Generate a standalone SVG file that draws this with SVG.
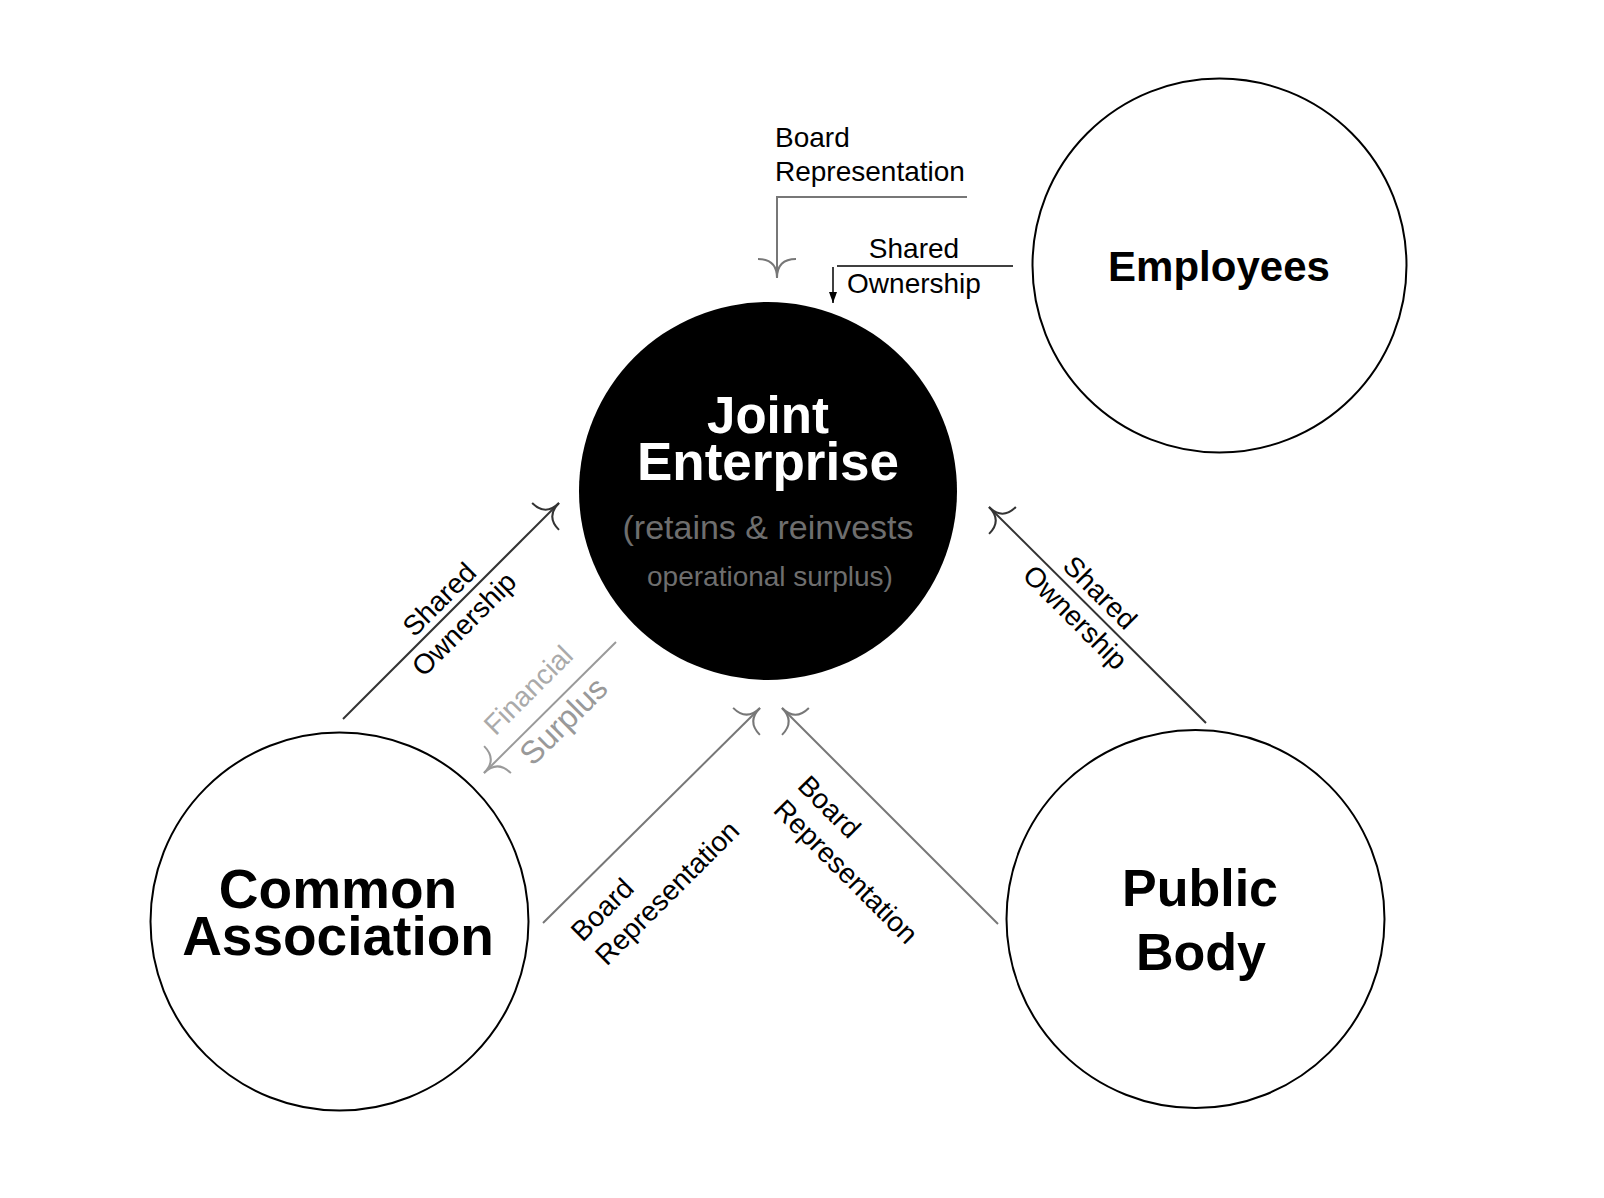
<svg xmlns="http://www.w3.org/2000/svg" width="1604" height="1198" viewBox="0 0 1604 1198">
<style>
text { font-family: "Liberation Sans", Arial, Helvetica, sans-serif; }
.lbl { font-size: 28px; fill: #000; }
.node { fill: #fff; stroke: #000; stroke-width: 2; }
.title { font-weight: bold; fill: #000; text-anchor: middle; }
.dark { stroke: #333; stroke-width: 2; fill: none; }
.gray { stroke: #777; stroke-width: 2; fill: none; }
.light { stroke: #9a9a9a; stroke-width: 2; fill: none; }
</style>
<defs>
<marker id="mk-dark" viewBox="-24 -24 30 48" refX="0" refY="0" markerWidth="30" markerHeight="48" markerUnits="userSpaceOnUse" orient="auto" overflow="visible">
<path d="M-19,-19 Q-19,0 0,0 Q-19,0 -19,19" fill="none" stroke="#333" stroke-width="2"/>
</marker>
<marker id="mk-gray" viewBox="-24 -24 30 48" refX="0" refY="0" markerWidth="30" markerHeight="48" markerUnits="userSpaceOnUse" orient="auto" overflow="visible">
<path d="M-19,-19 Q-19,0 0,0 Q-19,0 -19,19" fill="none" stroke="#777" stroke-width="2"/>
</marker>
<marker id="mk-light" viewBox="-24 -24 30 48" refX="0" refY="0" markerWidth="30" markerHeight="48" markerUnits="userSpaceOnUse" orient="auto" overflow="visible">
<path d="M-19,-19 Q-19,0 0,0 Q-19,0 -19,19" fill="none" stroke="#9a9a9a" stroke-width="2"/>
</marker>
<marker id="mk-solid" viewBox="-12 -5 13 10" refX="0" refY="0" markerWidth="13" markerHeight="10" markerUnits="userSpaceOnUse" orient="auto" overflow="visible">
<path d="M0,0 L-11,-4 L-11,4 Z" fill="#000"/>
</marker>
</defs>
<rect x="0" y="0" width="1604" height="1198" fill="#fff"/>

<g id="connectors">
  <!-- Employees: Board Representation (elbow) -->
  <path class="gray" d="M967,197 L777,197 L777,278" marker-end="url(#mk-gray)"/>
  <!-- Employees: Shared Ownership -->
  <line x1="837" y1="266" x2="1013" y2="266" stroke="#000" stroke-width="1.5"/>
  <line x1="833" y1="267" x2="833" y2="303" stroke="#000" stroke-width="1.5" marker-end="url(#mk-solid)"/>
  <!-- Common Association: Shared Ownership -->
  <line class="dark" x1="343" y1="719" x2="559" y2="503" marker-end="url(#mk-dark)"/>
  <!-- Financial Surplus -->
  <line class="light" x1="616" y1="642" x2="484" y2="773" marker-end="url(#mk-light)"/>
  <!-- Common Association: Board Representation -->
  <line class="gray" x1="543" y1="923" x2="760" y2="708" marker-end="url(#mk-gray)"/>
  <!-- Public Body: Board Representation -->
  <line class="gray" x1="998" y1="924" x2="782" y2="708" marker-end="url(#mk-gray)"/>
  <!-- Public Body: Shared Ownership -->
  <line class="dark" x1="1206" y1="723" x2="989" y2="507" marker-end="url(#mk-dark)"/>

  <g id="label-emp-board">
    <text class="lbl" x="775" y="147">Board</text>
    <text class="lbl" x="775" y="181">Representation</text>
  </g>
  <g id="label-emp-shared" text-anchor="middle">
    <text class="lbl" x="914" y="258">Shared</text>
    <text class="lbl" x="914" y="293">Ownership</text>
  </g>
  <g id="label-ca-shared" transform="translate(451,611) rotate(-45)" text-anchor="middle">
    <text class="lbl" x="0" y="-7">Shared</text>
    <text class="lbl" x="0" y="28">Ownership</text>
  </g>
  <g id="label-fin" transform="translate(550,707.5) rotate(-45)" text-anchor="middle">
    <text x="-3" y="-18" font-size="28" fill="#aaa">Financial</text>
    <text x="0" y="30" font-size="32" fill="#999">Surplus</text>
  </g>
  <g id="label-ca-board" transform="translate(543,923) rotate(-45)">
    <text class="lbl" x="14" y="42">Board</text>
    <text class="lbl" x="14" y="76">Representation</text>
  </g>
  <g id="label-pb-board" transform="translate(782,708) rotate(45)">
    <text class="lbl" x="66" y="46">Board</text>
    <text class="lbl" x="66" y="80">Representation</text>
  </g>
  <g id="label-pb-shared" transform="translate(1097.5,615) rotate(45)" text-anchor="middle">
    <text class="lbl" x="-14" y="-8">Shared</text>
    <text class="lbl" x="-14" y="27">Ownership</text>
  </g>
</g>

<g id="joint-enterprise">
  <circle cx="768" cy="491" r="189" fill="#000"/>
  <text x="768" y="433" font-size="51" font-weight="bold" fill="#fff" text-anchor="middle">Joint</text>
  <text x="768" y="480" font-size="53" font-weight="bold" fill="#fff" text-anchor="middle">Enterprise</text>
  <text x="768" y="539" font-size="34" fill="#6e6e6e" text-anchor="middle">(retains &amp; reinvests</text>
  <text x="770" y="586" font-size="28" fill="#6e6e6e" text-anchor="middle">operational surplus)</text>
</g>

<g id="employees">
  <circle class="node" cx="1219.5" cy="265.5" r="187" stroke-width="1.6"/>
  <text class="title" x="1219" y="281" font-size="42">Employees</text>
</g>

<g id="common-association">
  <circle class="node" cx="339.5" cy="921.5" r="189"/>
  <text class="title" x="338" y="908" font-size="55">Common</text>
  <text class="title" x="338" y="955" font-size="55">Association</text>
</g>

<g id="public-body">
  <circle class="node" cx="1195.5" cy="919" r="189"/>
  <text class="title" x="1200" y="906" font-size="52">Public</text>
  <text class="title" x="1201" y="970" font-size="52">Body</text>
</g>
</svg>
